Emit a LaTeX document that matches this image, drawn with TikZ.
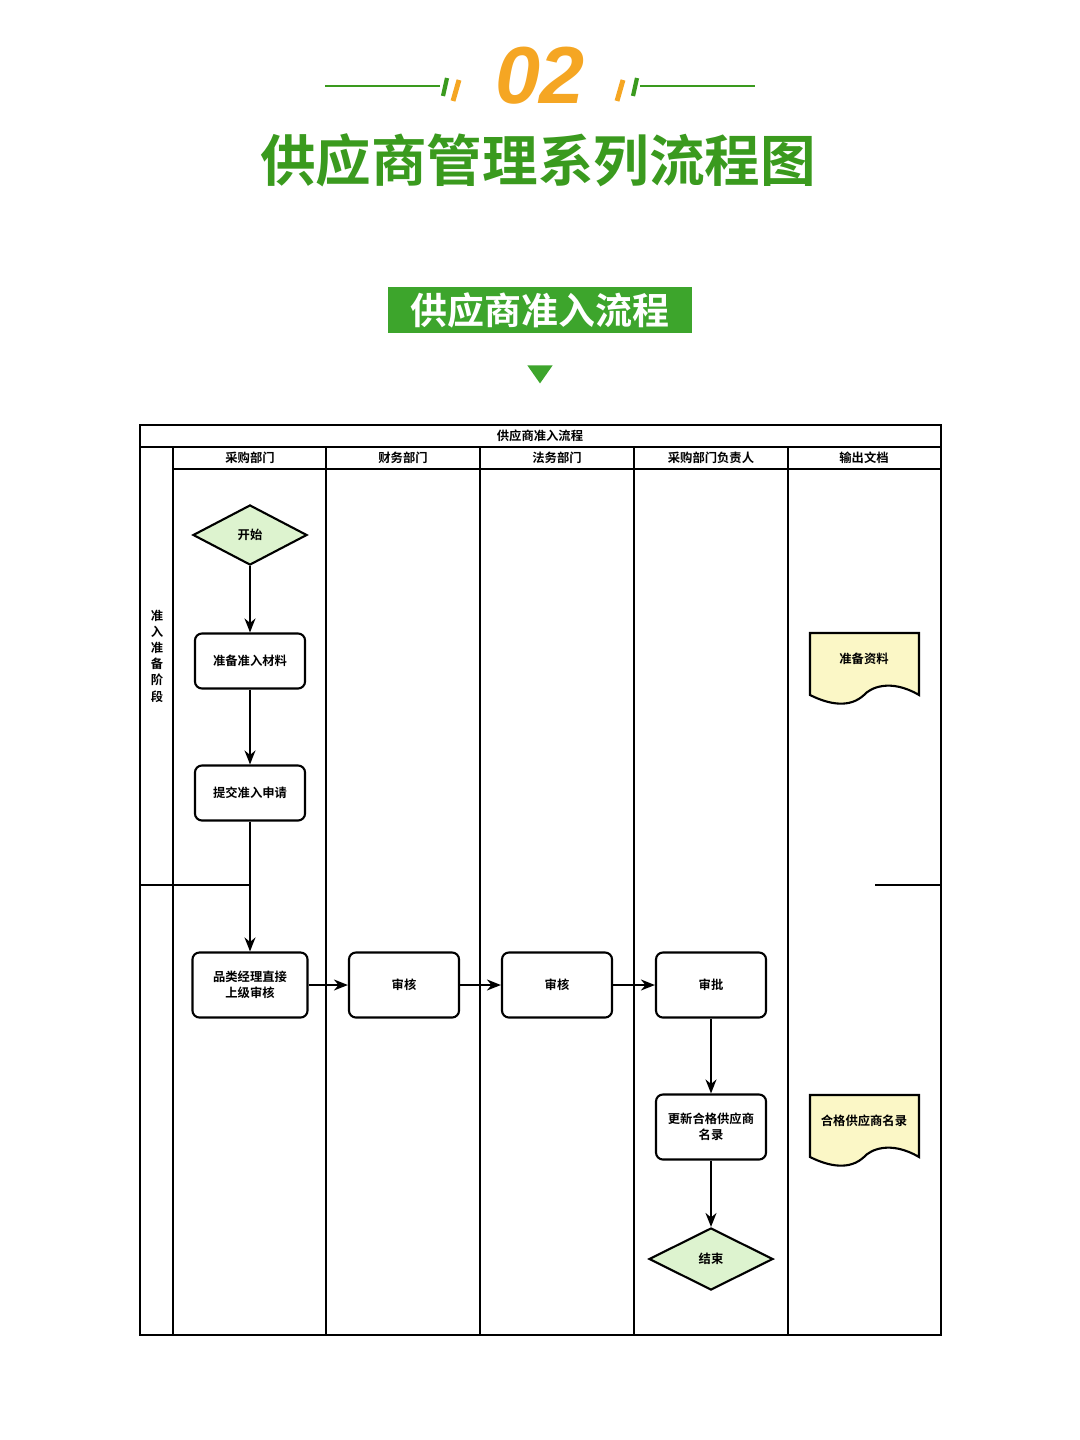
\documentclass[tikz,border=0pt]{standalone}
\usepackage{fontspec}
\setmainfont{Liberation Sans}
\newfontfamily\cjk{Noto Sans CJK SC}
\newfontfamily\cjkb{Noto Sans CJK SC Bold}
\usetikzlibrary{shapes.geometric,arrows.meta}
\definecolor{gr}{HTML}{3A9A1E}
\definecolor{bn}{HTML}{3DA52C}
\definecolor{og}{HTML}{F5A623}
\definecolor{lg}{HTML}{DDF3CF}
\definecolor{ly}{HTML}{FBF7C6}
\begin{document}
\begin{tikzpicture}[x=0.01cm,y=-0.01cm,
  t/.style={font=\cjkb\fontsize{3.5}{4.4}\selectfont,align=center},
  box/.style={t,draw,line width=0.6pt,rounded corners=0.7mm,minimum width=1.1cm,minimum height=0.55cm},
  dia/.style={t,draw,line width=0.6pt,diamond,aspect=1.9,fill=lg,inner sep=0pt},
  arr/.style={line width=0.5pt,-{Stealth[length=1.4mm,width=1.1mm]}},
  ln/.style={line width=0.65pt}]
\useasboundingbox (0,0) rectangle (1080,1440);
% header
\draw[gr,line width=0.3pt] (325,86) -- (440,86) (640,86) -- (755,86);
\draw[gr,line width=1.2pt] (443,96) -- (447,78) (633,96) -- (637,78);
\draw[og,line width=1.4pt] (453,101) -- (459,80) (617,101) -- (623,80);
\node[og,font=\bfseries\itshape\fontsize{23}{23}\selectfont] (num) at (540,76) {02};
\node[gr,font=\cjkb\fontsize{15.8}{16}\selectfont] (title) at (538,160) {供应商管理系列流程图};
\node[fill=bn,text=white,font=\cjkb\fontsize{10.5}{12}\selectfont,minimum width=3.04cm,minimum height=0.46cm,inner sep=0pt] (ban) at (540,310) {供应商准入流程};
\node[fill=bn,isosceles triangle,shape border rotate=-90,isosceles triangle apex angle=70,minimum height=0.18cm,inner sep=0pt] (tri) at (540,372) {};
% table
\draw[ln] (140,425) rectangle (941,1335);
\draw[ln] (140,447) -- (941,447);
\draw[ln] (173,469) -- (941,469);
\foreach \x in {173,326,480,634,788} \draw[ln] (\x,447) -- (\x,1335);
\draw[ln] (140,885) -- (250,885) (875,885) -- (941,885);
\node[t] (hd) at (540,436) {供应商准入流程};
\node[t] (h1) at (250,458) {采购部门};
\node[t] (h2) at (403,458) {财务部门};
\node[t] (h3) at (557,458) {法务部门};
\node[t] (h4) at (711,458) {采购部门负责人};
\node[t] (h5) at (864,458) {输出文档};
\node[t,font=\cjkb\fontsize{3.5}{4.6}\selectfont] (ph) at (157,656) {准\\入\\准\\备\\阶\\段};
% nodes
\node[dia,minimum width=1.14cm,minimum height=0.6cm] (st) at (250,535) {开始};
\node[box] (a1) at (250,661) {准备准入材料};
\node[box] (a2) at (250,793) {提交准入申请};
\node[box,minimum width=1.15cm,minimum height=0.65cm] (a3) at (250,985) {品类经理直接\\上级审核};
\node[box,minimum height=0.65cm] (b1) at (404,985) {审核};
\node[box,minimum height=0.65cm] (c1) at (557,985) {审核};
\node[box,minimum height=0.65cm] (d1) at (711,985) {审批};
\node[box,minimum height=0.65cm] (d2) at (711,1127) {更新合格供应商\\名录};
\node[dia,minimum width=1.24cm,minimum height=0.62cm] (en) at (711,1259) {结束};
\draw[arr] (st) -- (a1);
\draw[arr] (a1) -- (a2);
\draw[arr] (a2) -- (a3);
\draw[arr] (a3) -- (b1);
\draw[arr] (b1) -- (c1);
\draw[arr] (c1) -- (d1);
\draw[arr] (d1) -- (d2);
\draw[arr] (d2) -- (en);
% documents
\foreach \n/\y/\txt in {doc1/633/准备资料,doc2/1095/合格供应商名录}{
  \draw[line width=0.6pt,fill=ly] (810,\y) -- (919,\y) -- (919,\y+62) .. controls (890,\y+45) and (870,\y+55) .. (864,\y+62) .. controls (850,\y+75) and (830,\y+72) .. (810,\y+62) -- cycle;
  \node[t] (\n) at (864,\y+26) {\txt};
}
\end{tikzpicture}
\end{document}
